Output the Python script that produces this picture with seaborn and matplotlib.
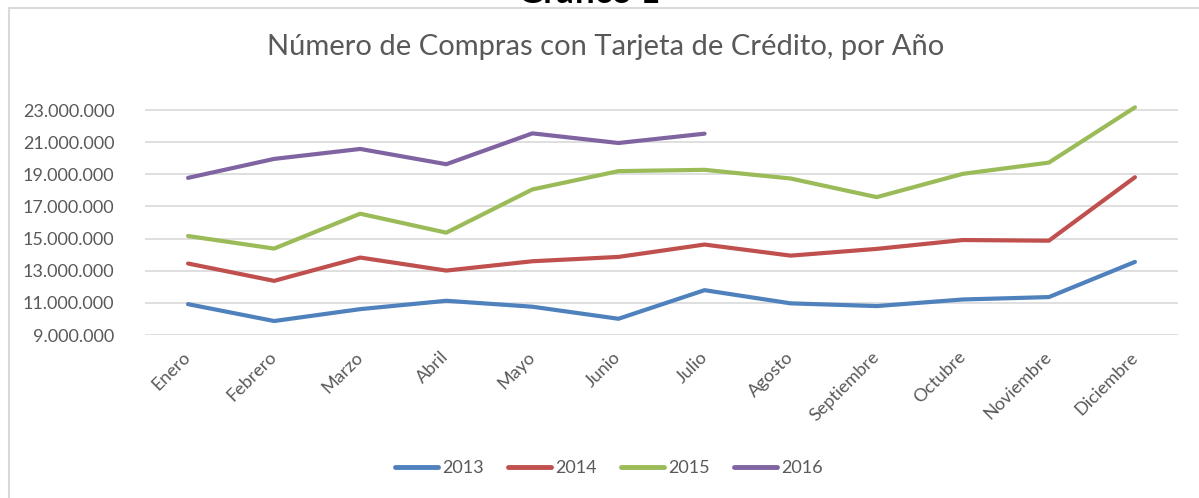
import pandas as pd
import numpy as np
import matplotlib.pyplot as plt
import seaborn as sns
from matplotlib.patches import Rectangle
from matplotlib.ticker import FuncFormatter

meses = ['Enero', 'Febrero', 'Marzo', 'Abril', 'Mayo', 'Junio', 'Julio',
         'Agosto', 'Septiembre', 'Octubre', 'Noviembre', 'Diciembre']

# millones de compras
v2013 = [10.92, 9.87, 10.61, 11.13, 10.76, 10.01, 11.79, 10.97, 10.80, 11.21, 11.36, 13.55]
v2014 = [13.45, 12.37, 13.82, 13.01, 13.59, 13.86, 14.63, 13.94, 14.36, 14.91, 14.87, 18.82]
v2015 = [15.16, 14.38, 16.55, 15.37, 18.06, 19.20, 19.28, 18.74, 17.58, 19.03, 19.73, 23.17]
v2016 = [18.78, 19.96, 20.58, 19.63, 21.55, 20.95, 21.53]

anios = ['2013', '2014', '2015', '2016']
colores = ['#4F81BD', '#C0504D', '#9BBB59', '#8064A2']

rows = []
for anio, vals in zip(anios, [v2013, v2014, v2015, v2016]):
    for i, v in enumerate(vals):
        rows.append({'mes': i, 'anio': anio, 'compras': v * 1e6})
df = pd.DataFrame(rows)

sns.set_theme(style='white')
plt.rcParams['font.family'] = ['Lato', 'DejaVu Sans']
gris = '#595959'

fig = plt.figure(figsize=(11.99, 4.98), dpi=100)
W, H = 1199, 498
fig.patches.append(Rectangle((9 / W, -0.1), 1.2, 1 - 8 / H + 0.1, transform=fig.transFigure,
                             fill=False, edgecolor='#D9D9D9', lw=1.5))
ax = fig.add_axes([145 / W, 1 - 335 / H, (1178 - 145) / W, (335 - 94) / H])

sns.lineplot(data=df, x='mes', y='compras', hue='anio', palette=colores,
             lw=3.0, ax=ax, legend=True)
for ln in ax.lines:
    ln.set_solid_capstyle('round')
    ln.set_solid_joinstyle('round')

ax.set_xlim(-0.5, 11.5)
ax.set_ylim(9e6, 24e6)
ax.set_yticks(np.arange(9e6, 23.5e6, 2e6))
ax.yaxis.set_major_formatter(FuncFormatter(lambda v, p: f'{int(v):,}'.replace(',', '.')))
ax.set_xticks(range(12))
ax.set_xticklabels(meses, rotation=45, ha='right', va='center', rotation_mode='anchor')
ax.grid(axis='y', color='#D9D9D9', lw=1.2)
ax.set_axisbelow(True)
for s in ax.spines.values():
    s.set_visible(False)
ax.tick_params(axis='y', length=0, pad=22, labelsize=13, labelcolor=gris)
ax.tick_params(axis='x', length=0, pad=14, labelsize=13, labelcolor=gris)
ax.set_xlabel('')
ax.set_ylabel('')

h, l = ax.get_legend_handles_labels()
for hd in h:
    hd.set_linewidth(3.5)
ax.get_legend().remove()
fig.legend(h, l, loc='center', bbox_to_anchor=(609 / W, 1 - 468 / H), ncol=4, frameon=False,
           fontsize=13, labelcolor=gris, handlelength=2.4, handletextpad=0.25,
           columnspacing=1.3)

fig.text(606 / W, 1 - 47 / H, 'Número de Compras con Tarjeta de Crédito, por Año',
         ha='center', va='center', fontsize=21, color=gris)
fig.text(589 / W, 1 - 3 / H, 'Gráfico 1', ha='center', va='baseline', fontsize=25,
         fontweight='bold', color='black')

fig.savefig('out.png', dpi=100)
